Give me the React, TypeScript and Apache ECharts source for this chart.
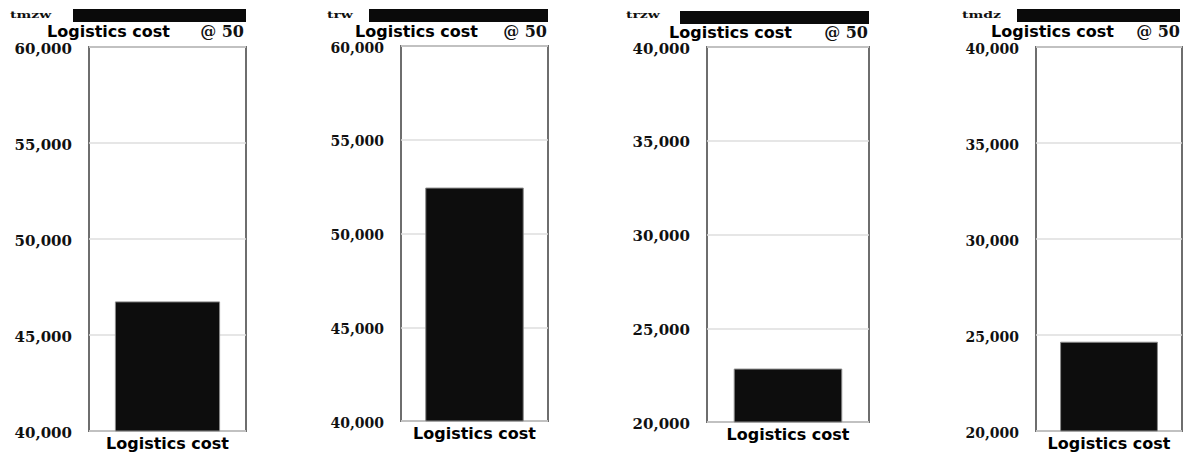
import React, { useEffect, useRef } from "react";
import * as echarts from "echarts";

const panelNames = ["tmzw", "trw", "trzw", "tmdz"];
const categories = ["Logistics cost"];
const costValues = [46750, 52450, 22850, 24650];
const axisMins = [40000, 40000, 20000, 20000];
const axisMaxs = [60000, 60000, 40000, 40000];
const axisInterval = 5000;
const headerTitle = "Logistics cost";
const headerSuffix = "@ 50";

// layout (pixels)
const grids = [
  { left: 89, top: 47, width: 157, height: 384 },
  { left: 401, top: 46, width: 147, height: 375 },
  { left: 707, top: 47, width: 162, height: 375 },
  { left: 1036, top: 47, width: 146, height: 384 },
];
const headers = [
  { nameX: 10, barX: 73, barW: 173, barY: 9, titleX: 47, suffixR: 244, textY: 31 },
  { nameX: 327, barX: 369, barW: 179, barY: 9, titleX: 355, suffixR: 547, textY: 31 },
  { nameX: 626, barX: 680, barW: 189, barY: 11, titleX: 669, suffixR: 868, textY: 32 },
  { nameX: 962, barX: 1017, barW: 163, barY: 9, titleX: 991, suffixR: 1180, textY: 31 },
];
const tickFontSizes = [15, 14, 15, 14];

export default function App() {
  const ref = useRef<HTMLDivElement>(null);
  useEffect(() => {
    if (!ref.current) return;
    const chart = echarts.init(ref.current, null, { renderer: "svg" });
    const fmt = (v: number) => v.toLocaleString("en-US");
    const graphic: any[] = [];
    headers.forEach((h, i) => {
      graphic.push({
        type: "text",
        x: h.nameX,
        y: 14.5,
        scaleX: 1.4,
        style: {
          text: panelNames[i],
          font: "bold 10px 'DejaVu Serif'",
          fill: "#111",
          lineHeight: 10,
          textAlign: "left",
          textVerticalAlign: "middle",
        },
      });
      graphic.push({
        type: "rect",
        shape: { x: h.barX, y: h.barY, width: h.barW, height: 13 },
        style: { fill: "#0a0a0a" },
      });
      graphic.push({
        type: "text",
        x: h.titleX,
        y: h.textY,
        style: {
          text: headerTitle,
          font: "bold 16px 'DejaVu Sans'",
          fill: "#000",
          lineHeight: 13,
          textAlign: "left",
          textVerticalAlign: "middle",
        },
      });
      graphic.push({
        type: "text",
        x: h.suffixR,
        y: h.textY,
        style: {
          text: headerSuffix,
          font: "bold 16px 'DejaVu Serif'",
          fill: "#111",
          lineHeight: 13,
          textAlign: "right",
          textVerticalAlign: "middle",
        },
      });
    });

    const option: any = {
      animation: false,
      backgroundColor: "#fff",
      graphic,
      grid: grids.map((g) => ({
        ...g,
        show: true,
        borderColor: "#6e6e6e",
        borderWidth: 2,
        backgroundColor: "transparent",
        containLabel: false,
      })),
      xAxis: grids.map((_, i) => ({
        type: "category",
        gridIndex: i,
        data: categories,
        axisLine: { show: false },
        axisTick: { show: false },
        axisLabel: {
          margin: 4,
          color: "#000",
          fontFamily: "DejaVu Sans",
          fontWeight: "bold",
          fontSize: 16,
        },
      })),
      yAxis: grids.map((_, i) => ({
        type: "value",
        gridIndex: i,
        min: axisMins[i],
        max: axisMaxs[i],
        interval: axisInterval,
        axisLine: { show: false },
        axisTick: { show: false },
        splitLine: { show: true, lineStyle: { color: "#dedede", width: 1.5 } },
        axisLabel: {
          margin: 17,
          color: "#111",
          fontFamily: "DejaVu Serif",
          fontWeight: "bold",
          fontSize: tickFontSizes[i],
          lineHeight: 11,
          verticalAlign: "top",
          padding: [-4, 0, 0, 0],
          formatter: fmt,
        },
      })),
      series: grids.map((_, i) => ({
        type: "bar",
        xAxisIndex: i,
        yAxisIndex: i,
        data: [costValues[i]],
        barWidth: "67%",
        itemStyle: { color: "#0d0d0d", borderColor: "#8a8a8a", borderWidth: 1 },
      })),
    };
    chart.setOption(option);
    return () => chart.dispose();
  }, []);
  return (
    <div
      ref={ref}
      style={{ position: "absolute", left: 0, top: 0, width: 1185, height: 452 }}
    />
  );
}
